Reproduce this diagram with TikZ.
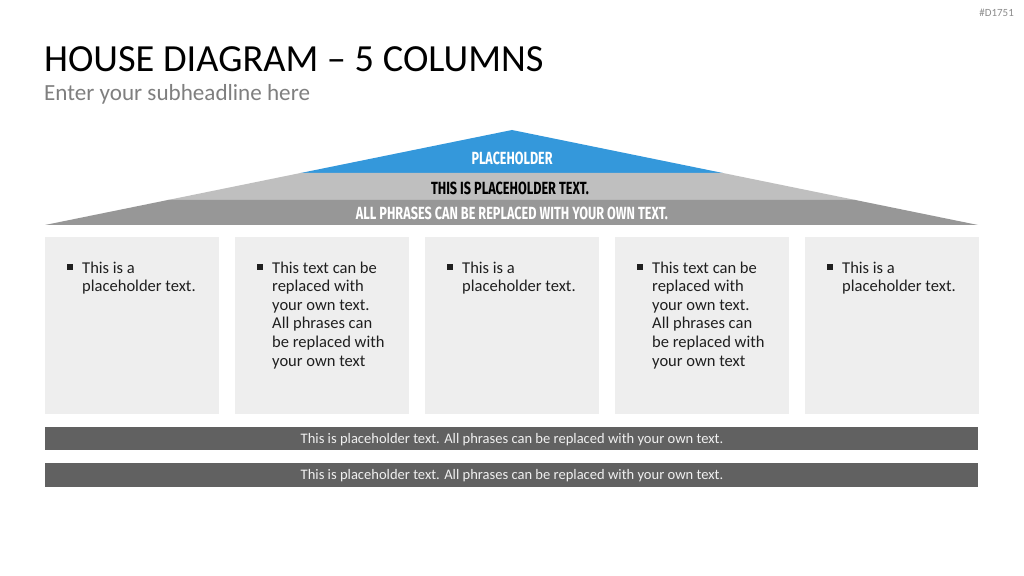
\documentclass[tikz,border=0pt]{standalone}
\usepackage{fontspec}
\setmainfont{Carlito}
\newfontfamily\rooffont{Fira Sans}
\usetikzlibrary{calc}
\definecolor{roofblue}{HTML}{3498DB}
\definecolor{rooflight}{HTML}{BFBFBF}
\definecolor{roofdark}{HTML}{979797}
\definecolor{boxgray}{HTML}{EEEEEE}
\definecolor{bargray}{HTML}{616161}
\definecolor{subgray}{HTML}{7F7F7F}
\newcommand{\rooftxt}[2]{\resizebox{#1bp}{12.5bp}{\rooffont\bfseries #2}}
\newcommand{\bulletsq}{\llap{\rule[0.2em]{0.34em}{0.34em}\hspace{0.55em}}}
\begin{document}
\begin{tikzpicture}[x=1bp,y=-1bp,
  colbox/.style={fill=boxgray,draw=none},
  coltext/.style={anchor=base west,inner sep=0pt,align=left,font=\fontsize{16.6}{18.6}\selectfont,text=black!88},
  barbox/.style={fill=bargray,draw=none},
  bartext/.style={inner sep=0pt,text=white!94!black,font=\fontsize{14.6}{16}\selectfont},
]
\useasboundingbox (0,0) rectangle (1024,576);
\fill[white] (0,0) rectangle (1024,576);

% header
\node[anchor=base east,inner sep=0pt,text=black!45,font=\fontsize{11}{12}\selectfont] (code) at (1014,17) {\#D1751};
\node[anchor=base west,inner sep=0pt,font=\fontsize{38.5}{42}\selectfont] (title) at (44,72) {HOUSE DIAGRAM – 5 COLUMNS};
\node[anchor=base west,inner sep=0pt,text=subgray,font=\fontsize{23.2}{26}\selectfont] (sub) at (44,101) {Enter your subheadline here};

% roof
\coordinate (A) at (512,130);
\coordinate (L) at (45,225);
\coordinate (R) at (978,225);
\coordinate (b1l) at ($(A)!{43/95}!(L)$);
\coordinate (b1r) at ($(A)!{43/95}!(R)$);
\coordinate (b2l) at ($(A)!{70/95}!(L)$);
\coordinate (b2r) at ($(A)!{70/95}!(R)$);
\fill[roofblue] (A) -- (b1r) -- (b1l) -- cycle;
\fill[rooflight] (b1l) -- (b1r) -- (b2r) -- (b2l) -- cycle;
\fill[roofdark] (b2l) -- (b2r) -- (R) -- (L) -- cycle;
\node[inner sep=0pt,text=white] (r1) at (512,158) {\rooftxt{81}{PLACEHOLDER}};
\node[inner sep=0pt,text=black] (r2) at (510,188) {\rooftxt{158}{THIS IS PLACEHOLDER TEXT.}};
\node[inner sep=0pt,text=white] (r3) at (512,213) {\rooftxt{312}{ALL PHRASES CAN BE REPLACED WITH YOUR OWN TEXT.}};

% columns
\foreach \i/\x in {1/45,2/235,3/425,4/615,5/805}{
  \fill[boxgray] (\x,237) rectangle ++(174,177);
}
\node[coltext] (t1) at (82,291.6) {\bulletsq This is a\\placeholder text.};
\node[coltext] (t2) at (272,366) {\bulletsq This text can be\\replaced with\\your own text.\\All phrases can\\be replaced with\\your own text};
\node[coltext] (t3) at (462,291.6) {\bulletsq This is a\\placeholder text.};
\node[coltext] (t4) at (652,366) {\bulletsq This text can be\\replaced with\\your own text.\\All phrases can\\be replaced with\\your own text};
\node[coltext] (t5) at (842,291.6) {\bulletsq This is a\\placeholder text.};

% bars
\fill[bargray] (45,427) rectangle (978,450);
\fill[bargray] (45,463) rectangle (978,487);
\node[bartext] (bar1) at (512,439.3) {This is placeholder text. All phrases can be replaced with your own text.};
\node[bartext] (bar2) at (512,475.8) {This is placeholder text. All phrases can be replaced with your own text.};
\end{tikzpicture}
\end{document}
